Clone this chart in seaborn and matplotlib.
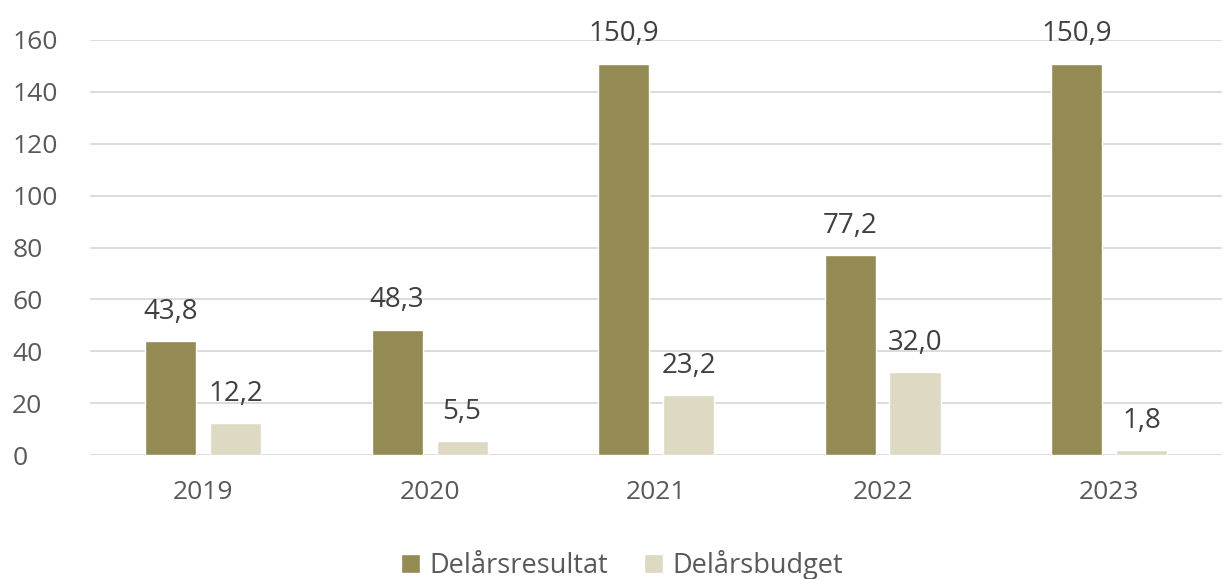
import pandas as pd
import matplotlib.pyplot as plt
import seaborn as sns

years = ["2019", "2020", "2021", "2022", "2023"]
resultat = [43.8, 48.3, 150.9, 77.2, 150.9]
budget = [12.2, 5.5, 23.2, 32.0, 1.8]
series = ["Delårsresultat", "Delårsbudget"]
colors = ["#948a54", "#ddd9c3"]

df = pd.DataFrame({
    "År": years * 2,
    "Värde": resultat + budget,
    "Serie": [series[0]] * len(years) + [series[1]] * len(years),
})

sns.set_style("white")
plt.rcParams['font.family'] = ['Open Sans', 'DejaVu Sans']
text_color = "#595959"

fig = plt.figure(figsize=(12.24, 5.79), dpi=100)
ax = fig.add_axes([0.0735, 0.214, 0.925, 0.717])

sns.barplot(data=df, x="År", y="Värde", hue="Serie", palette=colors,
            saturation=1, width=0.574, gap=0.215, ax=ax, legend=True)

for cont in ax.containers:
    labels = [f"{v:.1f}".replace(".", ",") for v in cont.datavalues]
    ax.bar_label(cont, labels=labels, padding=11, fontsize=20,
                 color="#404040", clip_on=False)

ax.set_ylim(0, 160)
ax.set_yticks(range(0, 161, 20))
ax.yaxis.grid(True, color="#d9d9d9", linewidth=1.3)
ax.set_axisbelow(True)
for s in ax.spines.values():
    s.set_visible(False)
ax.tick_params(axis="both", length=0, labelsize=19, labelcolor=text_color)
ax.tick_params(axis="x", pad=18)
ax.tick_params(axis="y", pad=56)
ax.set_xlabel("")
ax.set_ylabel("")
for lbl in ax.get_yticklabels():
    lbl.set_horizontalalignment("left")

ax.legend(loc="center", bbox_to_anchor=(0.47, -0.265), ncol=2, frameon=False,
          fontsize=19.5, handlelength=0.7, handleheight=0.7, handletextpad=0.35,
          columnspacing=1.3, labelcolor=text_color)

fig.savefig("out.png", dpi=100)
